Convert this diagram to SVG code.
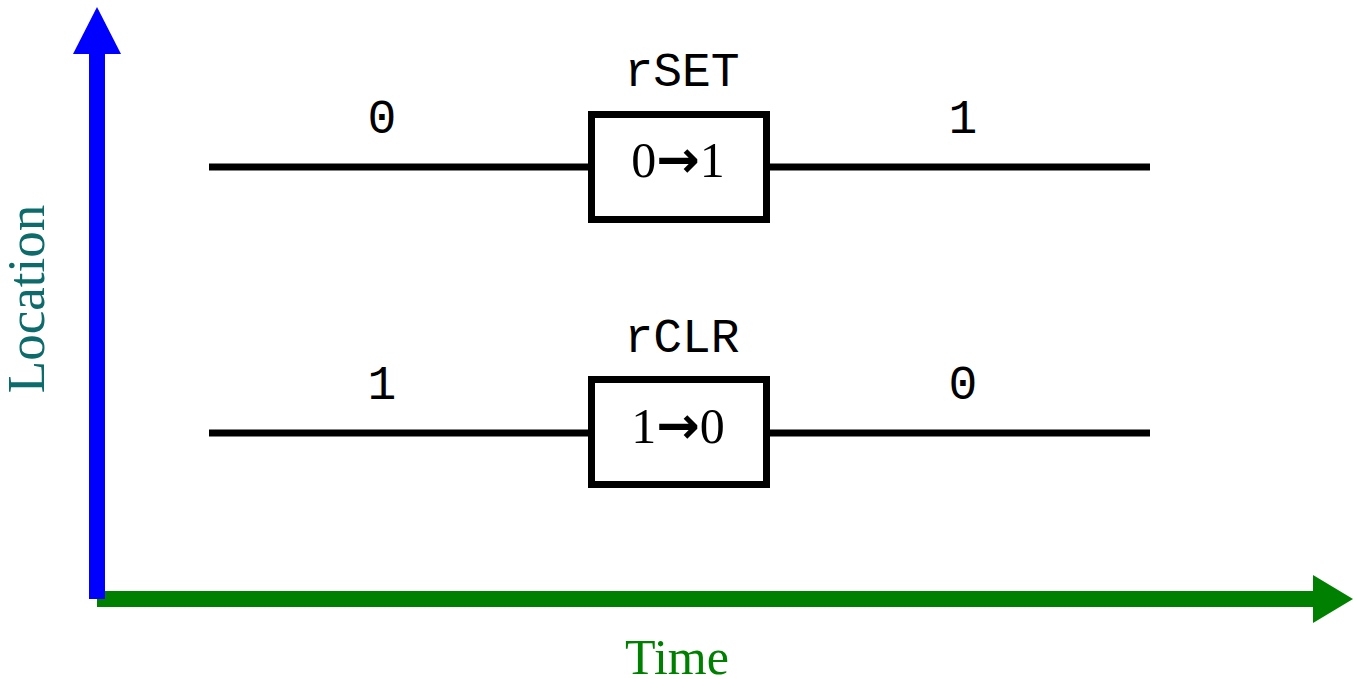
<svg xmlns="http://www.w3.org/2000/svg" width="1353" height="679" viewBox="0 0 1353 679">
  <style>
    .wire { stroke: #000; stroke-width: 7; fill: none; }
    .box { stroke: #000; stroke-width: 7; fill: #fff; }
    .mono { font-family: "Liberation Mono", "Courier New", monospace; font-size: 48px; fill: #000; text-anchor: middle; }
    .val { font-family: "Liberation Serif", "Times New Roman", serif; font-size: 50px; fill: #000; text-anchor: middle; }
    .arr { font-family: "DejaVu Sans", sans-serif; font-weight: bold; font-size: 52px; }
    .axis-label { font-family: "Liberation Serif", "Times New Roman", serif; font-size: 50px; text-anchor: middle; }
  </style>

  <!-- time axis (drawn first so the location axis sits on top at the corner) -->
  <g id="time-axis">
    <rect x="97" y="591" width="1217" height="16" fill="#008000"/>
    <polygon points="1313,575 1353,599 1313,623" fill="#008000"/>
    <text class="axis-label" x="677" y="674" fill="#008000">Time</text>
  </g>

  <!-- location axis -->
  <g id="location-axis">
    <rect x="89" y="53" width="16" height="546" fill="#0000ff"/>
    <polygon points="73,54 97,7 121,54" fill="#0000ff"/>
    <text class="axis-label" transform="translate(44,299) rotate(-90)" fill="#0e6b6b" style="font-size:53px">Location</text>
  </g>

  <!-- signal wires -->
  <g id="connectors">
    <line class="wire" x1="209" y1="167" x2="592" y2="167"/>
    <line class="wire" x1="767" y1="167" x2="1150" y2="167"/>
    <line class="wire" x1="209" y1="433" x2="592" y2="433"/>
    <line class="wire" x1="767" y1="433" x2="1150" y2="433"/>
  </g>

  <!-- wire state labels -->
  <g id="labels">
    <text class="mono" x="382" y="133">0</text>
    <text class="mono" x="963" y="133">1</text>
    <text class="mono" x="382" y="399">1</text>
    <text class="mono" x="963" y="399">0</text>
  </g>

  <!-- set operation -->
  <g id="rSET">
    <text class="mono" x="682" y="86">rSET</text>
    <rect class="box" x="591.5" y="114.5" width="175" height="105"/>
    <text class="val" x="678" y="177">0<tspan class="arr">→</tspan>1</text>
  </g>

  <!-- clear operation -->
  <g id="rCLR">
    <text class="mono" x="682" y="352">rCLR</text>
    <rect class="box" x="591.5" y="379.5" width="175" height="105"/>
    <text class="val" x="678" y="443">1<tspan class="arr">→</tspan>0</text>
  </g>
</svg>
